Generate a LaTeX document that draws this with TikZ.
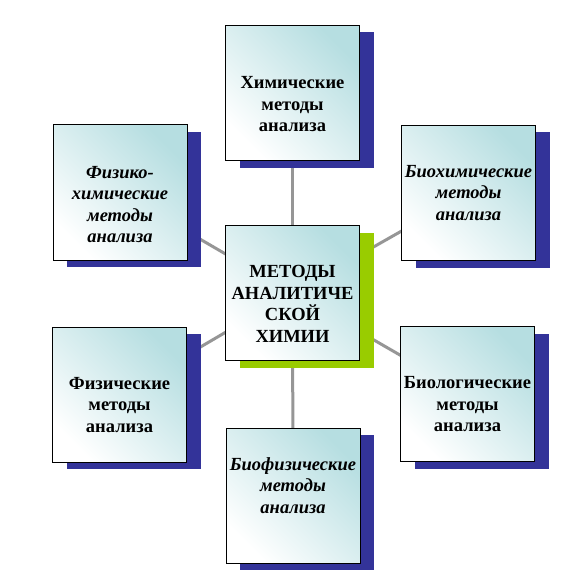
\documentclass[tikz,border=0pt]{standalone}
\usepackage{fontspec}
\setmainfont{Liberation Serif}
\usepackage{tikz}
\usetikzlibrary{shadows}
\usetikzlibrary{backgrounds}

\definecolor{boxcyan}{RGB}{182,222,225}
\definecolor{navyshadow}{RGB}{51,51,153}
\definecolor{limeshadow}{RGB}{153,204,0}
\definecolor{linkgray}{RGB}{150,150,150}

% extra room above the first line / below the last line of a box text
\newcommand{\padtop}[1]{\rule{0pt}{\dimexpr12.3pt+#1\relax}}
\newcommand{\padbot}[1]{\rule[-#1]{0pt}{#1}}

\tikzset{
  method/.style={draw=black, line width=1pt, minimum width=134pt, minimum height=135pt,
    inner sep=0pt, align=center, font=\fontsize{18.5}{21.5}\selectfont\bfseries,
    top color=boxcyan, middle color=white, bottom color=white, shading angle=-45,
    drop shadow={shadow xshift=14pt, shadow yshift=-7pt, fill=navyshadow, opacity=1}},
  methodit/.style={method, font=\fontsize{18.5}{21.5}\selectfont\bfseries\itshape},
  mainbox/.style={method,
    drop shadow={shadow xshift=14pt, shadow yshift=-7pt, fill=limeshadow, opacity=1}},
  link/.style={draw=linkgray, line width=3pt}
}

\begin{document}
\begin{tikzpicture}[x=1pt, y=-1pt]
\useasboundingbox (0,0) rectangle (588,588);

% centre
\node[mainbox] (ctr) at (292.5,293) {\padtop{22pt}МЕТОДЫ\\АНАЛИТИЧЕ\\СКОЙ\\ХИМИИ};

% --- top and bottom ---
\node[method] (chem) at (292.5,93) {\padtop{22pt}Химические\\методы\\анализа};
\node[methodit] (biophys) at (293,495.5) {Биофизические\\методы\\анализа\padbot{20pt}};

% --- left column ---
\node[methodit] (physchem) at (120,192.5) {\padtop{24pt}Физико-\\химические\\методы\\анализа};
\node[method] (phys) at (119.5,394.5) {\padtop{20pt}Физические\\методы\\анализа};

% --- right column ---
\node[methodit] (biochem) at (468.5,193) {Биохимические\\методы\\анализа};
\node[method] (bio) at (467.5,394) {\padtop{20pt}Биологические\\методы\\анализа};

\begin{scope}[on background layer]
\foreach \m in {chem,biophys,physchem,phys,biochem,bio}
  \draw[link] (ctr.center) -- (\m.center);
\end{scope}

\end{tikzpicture}
\end{document}
